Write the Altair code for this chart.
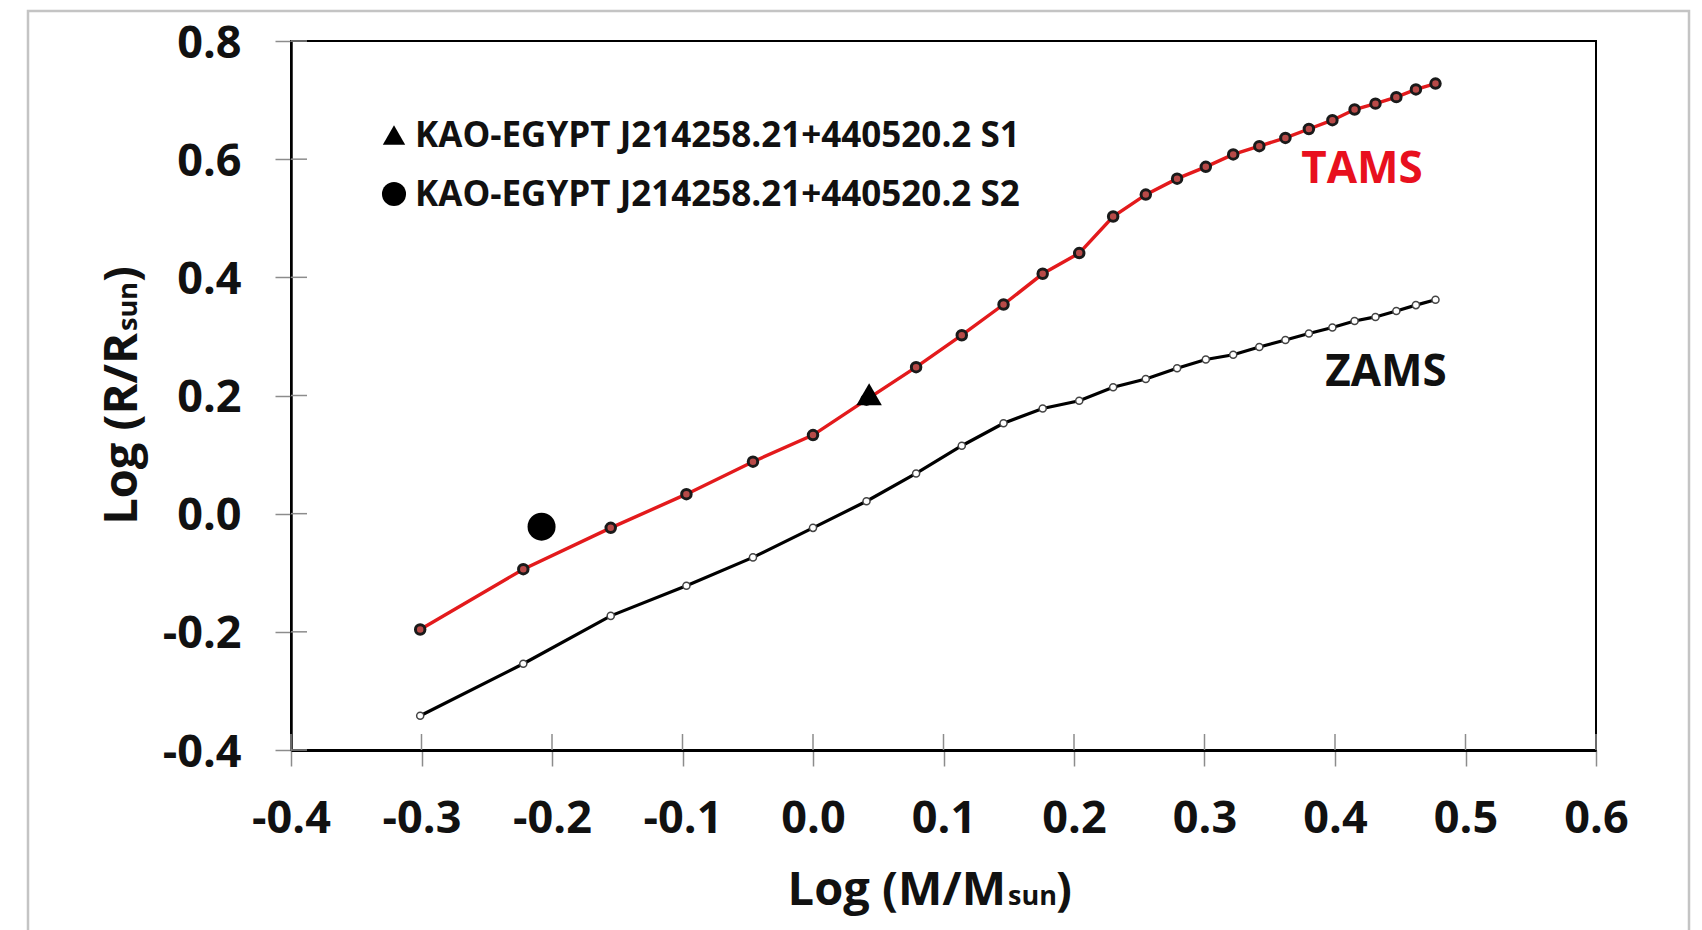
import altair as alt
import pandas as pd

# ---------------- data ----------------
log_m = [-0.301, -0.222, -0.155, -0.097, -0.046, 0.000, 0.041, 0.079, 0.114,
         0.146, 0.176, 0.204, 0.230, 0.255, 0.279, 0.301, 0.322, 0.342,
         0.362, 0.380, 0.398, 0.415, 0.431, 0.447, 0.462, 0.477]
tams_log_r = [-0.196, -0.094, -0.024, 0.033, 0.088, 0.133, 0.193, 0.248, 0.302,
              0.354, 0.406, 0.441, 0.503, 0.540, 0.567, 0.587, 0.608, 0.622,
              0.636, 0.651, 0.666, 0.684, 0.694, 0.705, 0.718, 0.728]
zams_log_r = [-0.342, -0.254, -0.173, -0.122, -0.074, -0.024, 0.021, 0.068, 0.115,
              0.153, 0.178, 0.191, 0.214, 0.228, 0.246, 0.261, 0.269, 0.282,
              0.294, 0.305, 0.315, 0.326, 0.333, 0.343, 0.353, 0.362]

star_names = ["KAO-EGYPT J214258.21+440520.2 S1", "KAO-EGYPT J214258.21+440520.2 S2"]
star_log_m = [0.043, -0.208]
star_log_r = [0.202, -0.022]

x_ticks = [-0.4, -0.3, -0.2, -0.1, 0.0, 0.1, 0.2, 0.3, 0.4, 0.5, 0.6]
y_ticks = [-0.4, -0.2, 0.0, 0.2, 0.4, 0.6, 0.8]

# ---------------- layout ----------------
W, H = 1305, 709
FONT = "Open Sans"
TICK = 16

tams = pd.DataFrame({"x": log_m, "y": tams_log_r})
zams = pd.DataFrame({"x": log_m, "y": zams_log_r})
s1 = pd.DataFrame({"x": [star_log_m[0]], "y": [star_log_r[0]]})
s2 = pd.DataFrame({"x": [star_log_m[1]], "y": [star_log_r[1]]})
xt = pd.DataFrame({"x": x_ticks})
yt = pd.DataFrame({"y": y_ticks})
one = pd.DataFrame({"k": [0]})

label_expr = "datum.value < 0 ? '-' + format(-datum.value, '.1f') : format(datum.value, '.1f')"

xaxis = alt.Axis(values=x_ticks, title=None, grid=False, labelExpr=label_expr,
                 tickSize=TICK, tickColor="#8c8c8c", tickWidth=1.5,
                 domainColor="black", domainWidth=3,
                 labelFont=FONT, labelFontSize=45, labelFontWeight="bold",
                 labelColor="#111111", labelPadding=30, labelFlush=False,
                 labelOverlap=False, labelBound=False)
yaxis = alt.Axis(values=y_ticks, title=None, grid=False, labelExpr=label_expr,
                 tickSize=TICK, tickColor="#8c8c8c", tickWidth=1.5,
                 domainColor="black", domainWidth=2.5,
                 labelFont=FONT, labelFontSize=45, labelFontWeight="bold",
                 labelColor="#111111", labelPadding=34, labelFlush=False,
                 labelOverlap=False, labelBound=False, labelOffset=2)
xs = alt.Scale(domain=[-0.4, 0.6], nice=False, zero=False)
ys = alt.Scale(domain=[-0.4, 0.8], nice=False, zero=False)
X = alt.X("x:Q", scale=xs, axis=xaxis)
Y = alt.Y("y:Q", scale=ys, axis=yaxis)

# outer gray frame of the figure
frame = alt.Chart(one).mark_rect(fill="white", fillOpacity=0, stroke="#c4c4c4",
                                 strokeWidth=2.5).encode(
    x=alt.value(28 - 291), x2=alt.value(1689 - 291),
    y=alt.value(11 - 41), y2=alt.value(H + 200))

# inner halves of the crossing tick marks
ytick_in = alt.Chart(yt).mark_rule(color="#8c8c8c", strokeWidth=1.5).encode(
    y=Y, x=alt.value(0), x2=alt.value(TICK))
xtick_in = alt.Chart(xt).mark_rule(color="#8c8c8c", strokeWidth=1.5).encode(
    x=X, y=alt.value(H), y2=alt.value(H - TICK))

zams_line = alt.Chart(zams).mark_line(color="black", strokeWidth=3.2).encode(x=X, y=Y)
zams_pts = alt.Chart(zams).mark_point(shape="circle", filled=True, fill="white",
                                      stroke="#444444", strokeWidth=1.5, size=50,
                                      opacity=1).encode(x=X, y=Y)
tams_line = alt.Chart(tams).mark_line(color="#e31a1c", strokeWidth=3.4).encode(x=X, y=Y)
tams_pts = alt.Chart(tams).mark_point(shape="circle", filled=True, fill="#b84a48",
                                      stroke="#1a1a1a", strokeWidth=3, size=90,
                                      opacity=1).encode(x=X, y=Y)

s1_pt = alt.Chart(s1).mark_point(shape="triangle-up", filled=True, color="black",
                                 size=650, opacity=1).encode(x=X, y=Y)
s2_pt = alt.Chart(s2).mark_point(shape="circle", filled=True, color="black",
                                 size=784, opacity=1).encode(x=X, y=Y)

# legend (drawn inside the plot, top-left)
legend_layers = []
leg_rows = [(94, "triangle-up", 500), (153, "circle", 580)]
for name, (ly, shp, sz) in zip(star_names, leg_rows):
    legend_layers.append(
        alt.Chart(one).mark_point(shape=shp, filled=True, color="black", size=sz,
                                  opacity=1).encode(x=alt.value(103), y=alt.value(ly)))
    legend_layers.append(
        alt.Chart(one).mark_text(text=name, font=FONT, fontSize=35, fontWeight="bold",
                                 color="#111111", align="left", baseline="middle").encode(
            x=alt.value(124), y=alt.value(ly + 1)))

tams_lbl = alt.Chart(one).mark_text(text="TAMS", font=FONT, fontSize=44, fontWeight="bold",
                                    color="#e8101e", align="center", baseline="middle").encode(
    x=alt.value(1362 - 291), y=alt.value(170 - 41))
zams_lbl = alt.Chart(one).mark_text(text="ZAMS", font=FONT, fontSize=44, fontWeight="bold",
                                    color="#111111", align="center", baseline="middle").encode(
    x=alt.value(1386 - 291), y=alt.value(373 - 41))

# axis titles with small "sun"
TF, SF = 47, 27
xt_a = alt.Chart(one).mark_text(text="Log (M/M", font=FONT, fontSize=TF, fontWeight="bold",
                                color="#111111", align="right", baseline="alphabetic").encode(
    x=alt.value(715), y=alt.value(864))
xt_b = alt.Chart(one).mark_text(text="sun", font=FONT, fontSize=SF, fontWeight="bold",
                                color="#111111", align="left", baseline="alphabetic").encode(
    x=alt.value(717), y=alt.value(864))
xt_c = alt.Chart(one).mark_text(text=")", font=FONT, fontSize=TF, fontWeight="bold",
                                color="#111111", align="left", baseline="alphabetic").encode(
    x=alt.value(765), y=alt.value(864))

yt_a = alt.Chart(one).mark_text(text="Log (R/R", font=FONT, fontSize=TF, fontWeight="bold",
                                color="#111111", align="right", baseline="alphabetic",
                                angle=270).encode(x=alt.value(-154), y=alt.value(292))
yt_b = alt.Chart(one).mark_text(text="sun", font=FONT, fontSize=SF, fontWeight="bold",
                                color="#111111", align="left", baseline="alphabetic",
                                angle=270).encode(x=alt.value(-154), y=alt.value(290))
yt_c = alt.Chart(one).mark_text(text=")", font=FONT, fontSize=TF, fontWeight="bold",
                                color="#111111", align="left", baseline="alphabetic",
                                angle=270).encode(x=alt.value(-154), y=alt.value(241))

chart = alt.layer(
    frame, ytick_in, xtick_in,
    zams_line, zams_pts, tams_line, tams_pts, s1_pt, s2_pt,
    *legend_layers, tams_lbl, zams_lbl,
    xt_a, xt_b, xt_c, yt_a, yt_b, yt_c,
).properties(
    width=W, height=H,
    autosize=alt.AutoSizeParams(type="none"),
    padding={"left": 291, "top": 41, "right": 106, "bottom": 180},
    background="white",
).configure_view(stroke="black", strokeWidth=2)

chart.save("out.html", embed_options={"renderer": "svg", "actions": False})
